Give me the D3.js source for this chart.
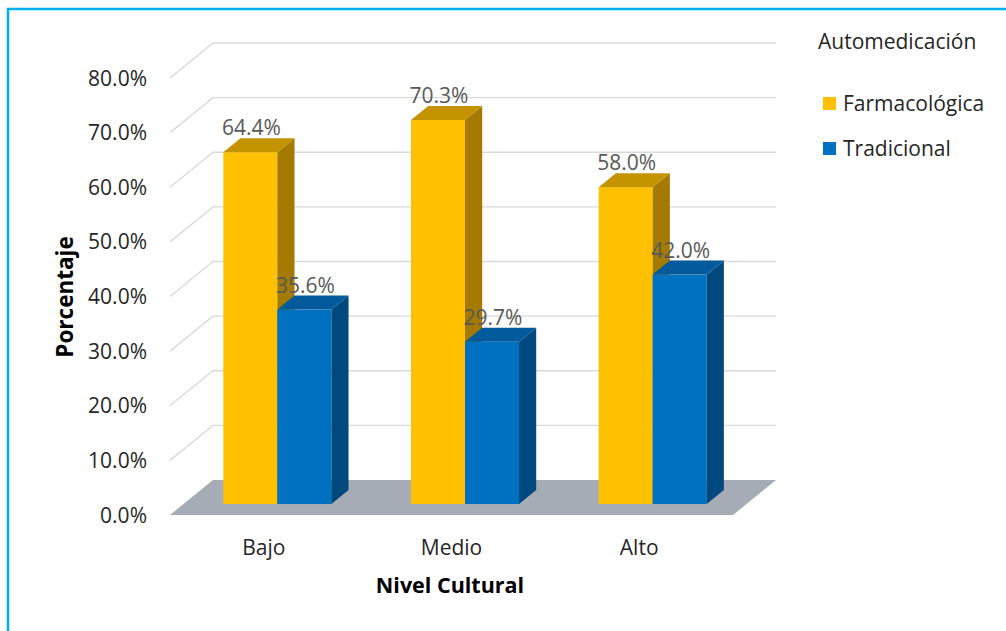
<!DOCTYPE html>
<html>
<head>
<meta charset="utf-8">
<script src="https://cdn.jsdelivr.net/npm/d3@7"></script>
<style>
html,body{margin:0;padding:0;background:#fff;overflow:hidden;}
svg{display:block;}
text{font-family:"Open Sans", Lato, sans-serif;}
</style>
</head>
<body>
<svg id="chart" width="1006" height="631"></svg>
<script>
// ---- data ----
const categories = ["Bajo", "Medio", "Alto"];
const seriesNames = ["Farmacológica", "Tradicional"];
const farmacologica = [64.4, 70.3, 58.0];
const tradicional = [35.6, 29.7, 42.0];
const yTicks = [0, 10, 20, 30, 40, 50, 60, 70, 80];
const legendTitle = "Automedicación";
const xTitle = "Nivel Cultural";
const yTitle = "Porcentaje";

const series = [farmacologica, tradicional];
const colors = [
  {front: "#FFC000", side: "#A47B00", top: "#C49300"},
  {front: "#0070C0", side: "#00497F", top: "#005A9C"}
];

const svg = d3.select("#chart");

// frame
svg.append("rect").attr("x", 8).attr("y", 9).attr("width", 1010).attr("height", 640)
  .attr("fill", "none").attr("stroke", "#00B0F0").attr("stroke-width", 2.5);

// 3D geometry (oblique projection)
const DX = 43, DY = 35;          // full depth offset
const t1 = 0.314, t2 = 0.714;    // bar depth span

const x = d3.scaleBand().domain(categories).range([170, 733])
  .paddingInner(0.4245).paddingOuter(0.21225);
const xs = d3.scaleBand().domain(d3.range(seriesNames.length)).range([0, x.bandwidth()]);
const y = d3.scaleLinear().domain([0, 80]).range([515, 78]);

// gridlines (left wall diagonal + back wall)
const grid = svg.append("g").attr("stroke", "#D9D9D9").attr("stroke-width", 1.3).attr("fill", "none");
yTicks.filter(d => d > 0).forEach(d => {
  const yf = y(d);
  grid.append("path").attr("d", d3.line()([[x.range()[0], yf], [x.range()[0] + DX, yf - DY], [x.range()[1] + DX, yf - DY]]));
});

// floor
const y0 = y(0);
svg.append("path")
  .attr("d", d3.line()([[x.range()[0], y0], [x.range()[1], y0], [x.range()[1] + DX, y0 - DY], [x.range()[0] + DX, y0 - DY]]) + "Z")
  .attr("fill", "#A5ACB6");

// bars
const bars = svg.append("g");
const labels = [];
categories.forEach((c, i) => {
  series.forEach((s, j) => {
    const v = s[i];
    const fx0 = x(c) + xs(j) + DX * t1;
    const fx1 = fx0 + xs.bandwidth();
    const yt = y(v) - DY * t1;
    const yb = y(0) - DY * t1;
    const dx = DX * (t2 - t1), dy = DY * (t2 - t1);
    const col = colors[j];
    bars.append("rect").attr("x", fx0).attr("y", yt).attr("width", fx1 - fx0).attr("height", yb - yt).attr("fill", col.front);
    bars.append("path").attr("d", d3.line()([[fx1, yt], [fx1 + dx, yt - dy], [fx1 + dx, yb - dy], [fx1, yb]]) + "Z").attr("fill", col.side);
    bars.append("path").attr("d", d3.line()([[fx0, yt], [fx1, yt], [fx1 + dx, yt - dy], [fx0 + dx, yt - dy]]) + "Z").attr("fill", col.top);
    labels.push({x: (fx0 + fx1) / 2 + 1, y: yt - dy - 3, t: v.toFixed(1) + "%"});
  });
});

svg.append("g").selectAll("text").data(labels).join("text")
  .attr("x", d => d.x).attr("y", d => d.y).attr("text-anchor", "middle")
  .attr("font-size", 21).attr("fill", "#595959").text(d => d.t);

// y tick labels
svg.append("g").selectAll("text").data(yTicks).join("text")
  .attr("x", 147).attr("y", d => y(d) + 7.5).attr("text-anchor", "end")
  .attr("font-size", 21).attr("fill", "#262626").text(d => d.toFixed(1) + "%");

// category labels
svg.append("g").selectAll("text").data(categories).join("text")
  .attr("x", d => x(d) + x.bandwidth() / 2).attr("y", 555).attr("text-anchor", "middle")
  .attr("font-size", 21).attr("fill", "#262626").text(d => d);

// axis titles
svg.append("text").attr("x", 450).attr("y", 593).attr("text-anchor", "middle")
  .attr("font-size", 21.5).attr("font-weight", "bold").attr("fill", "#000").text(xTitle);
svg.append("text").attr("transform", "translate(73,297) rotate(-90)").attr("text-anchor", "middle")
  .attr("font-size", 22.5).attr("font-weight", "bold").attr("fill", "#000").text(yTitle);

// legend
svg.append("text").attr("x", 818).attr("y", 49).attr("font-size", 21).attr("fill", "#262626").text(legendTitle);
const lg = svg.append("g").selectAll("g").data(seriesNames).join("g")
  .attr("transform", (d, i) => `translate(823,${97 + i * 45})`);
lg.append("rect").attr("width", 13).attr("height", 13).attr("fill", (d, i) => colors[i].front);
lg.append("text").attr("x", 20).attr("y", 13.5).attr("font-size", 21).attr("fill", "#262626").text(d => d);
</script>
</body>
</html>
